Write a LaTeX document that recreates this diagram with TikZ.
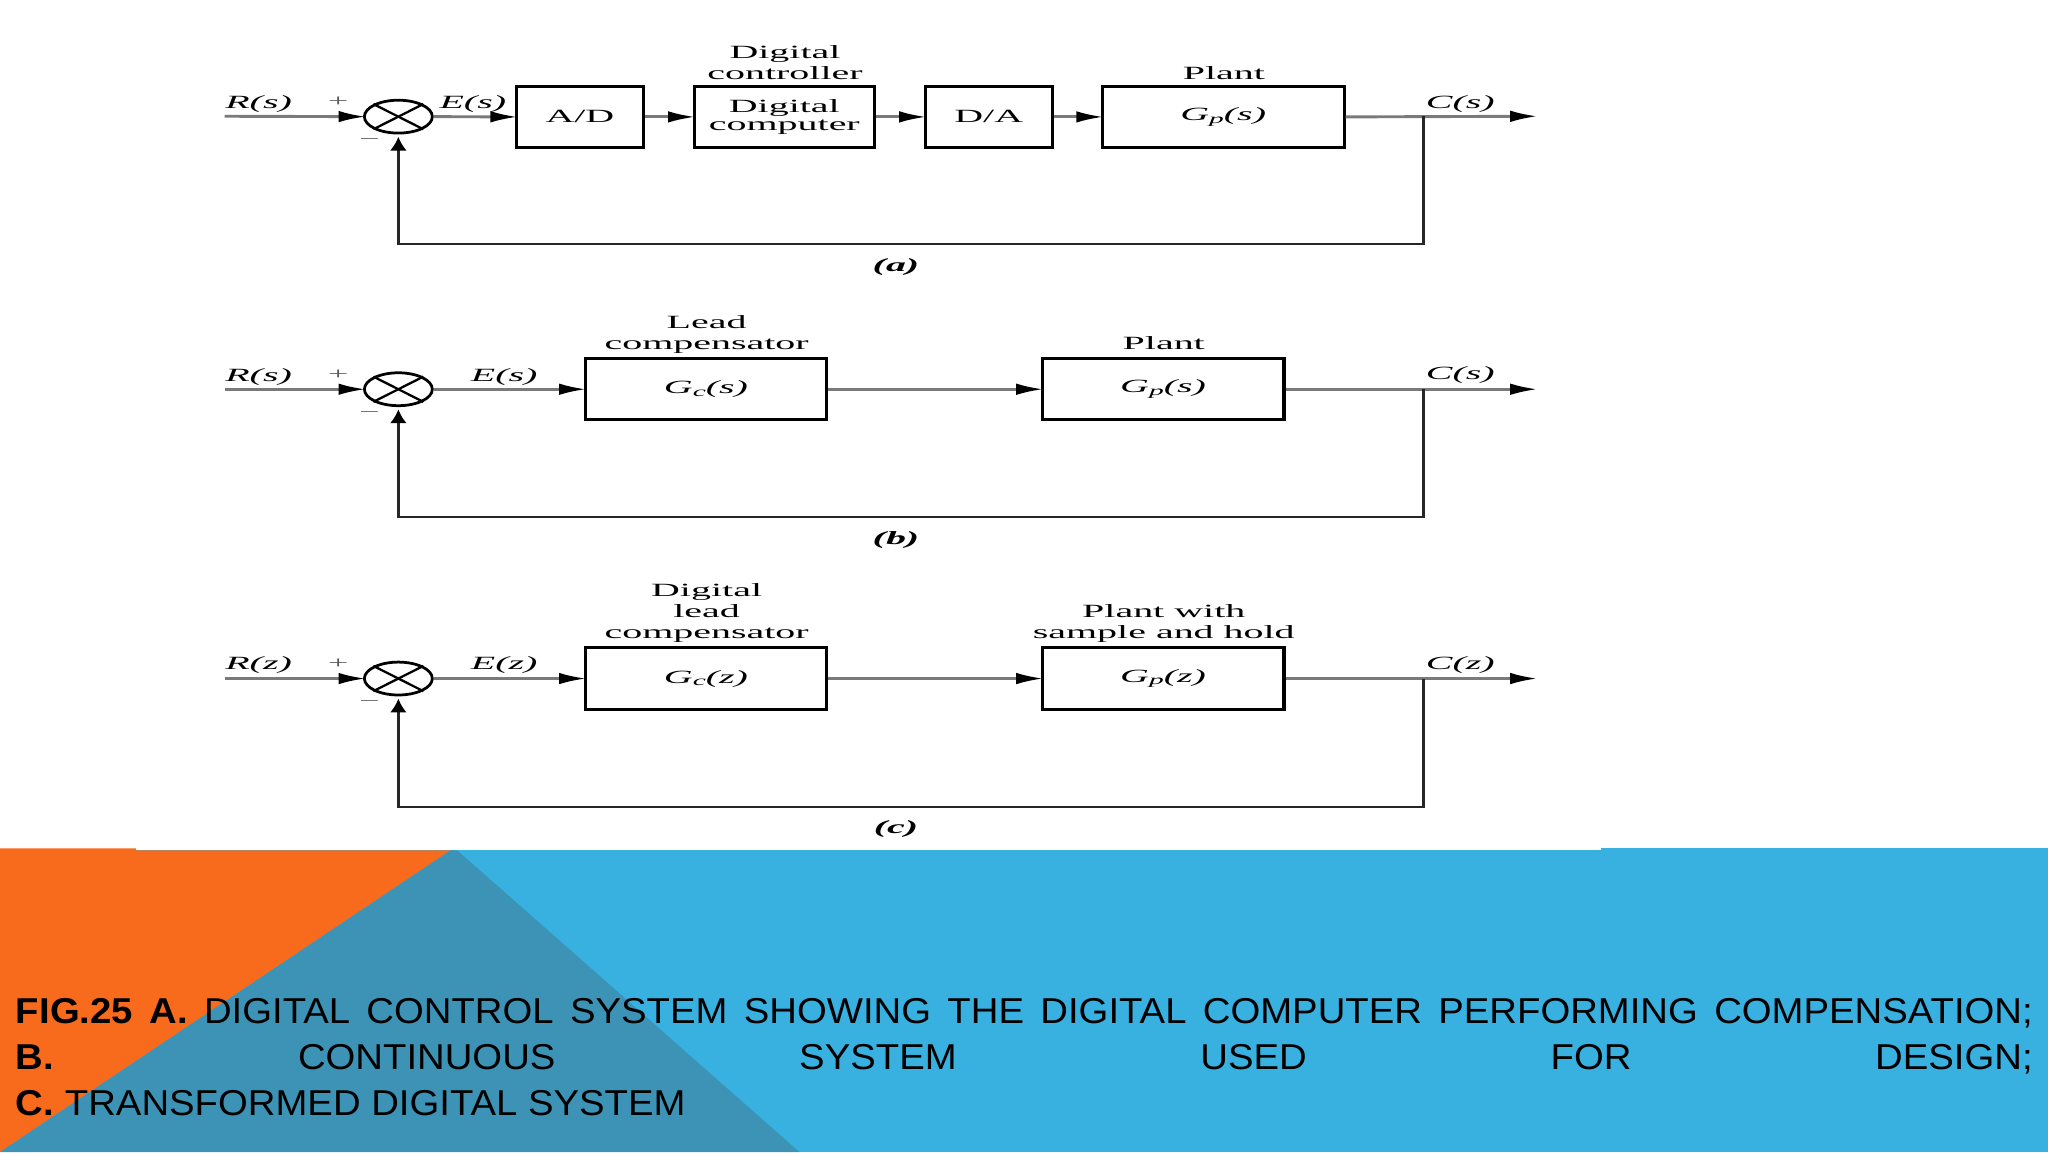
\documentclass[tikz,border=0pt]{standalone}
\usepackage{fontspec}
\usetikzlibrary{arrows.meta,shapes.geometric}
\newfontfamily\dfont[FakeStretch=2.14]{Liberation Serif}
\newfontfamily\capfont[FakeStretch=1.065]{Liberation Sans}
\definecolor{bandblue}{HTML}{38B0E0}
\definecolor{bandorange}{HTML}{F96B1C}
\definecolor{bandteal}{HTML}{3D93B5}
\newcommand{\gsb}[2]{\textit{#1}\raisebox{-0.3ex}{\fontsize{9}{9}\selectfont\textit{#2}}}
\tikzset{
  x=0.03cm,y=-0.03cm,
  lbl/.style={inner sep=0pt,anchor=south,text depth=0pt,align=center,
    font=\dfont\fontsize{12.2}{13.7}\selectfont},
  sm/.style={lbl,font=\dfont\fontsize{11}{12}\selectfont,text=black!65},
  blk/.style={draw=black,line width=2pt,fill=white,inner sep=0pt,minimum height=40pt,align=center,
    font=\dfont\fontsize{12.2}{13.7}\selectfont},
  sumj/.style={draw=black,ellipse,line width=1.8pt,inner sep=0pt,minimum width=44.4pt,minimum height=21.5pt},
  sig/.style={draw=black!52,line width=1.9pt,shorten >=-2pt,
    -{Latex[length=18pt,width=7.5pt,black]}},
  fb/.style={draw=black!85,line width=1.6pt,
    -{Latex[length=9pt,width=11pt,black]}},
  xl/.style={draw=black,line width=1.5pt},
}
\begin{document}
\begin{tikzpicture}
\useasboundingbox (0,0) rectangle (1568,882);
% band
\fill[bandblue] (0,651) rectangle (1568,882);
\fill[bandblue] (1226,649.5) rectangle (1568,651);
\fill[bandorange] (0,649.5) -- (104,649.5) -- (104,651) -- (345,651) -- (0,882) -- cycle;
\fill[bandteal] (350,651) -- (612,882) -- (0,882) -- (345,651) -- cycle;

% row a
\node[sumj] (sa) at (305,89.3) {};
\node[blk,minimum width=83pt] (ad) at (444,89.5) {A/D};
\node[blk,minimum width=118pt] (dc) at (600.5,89.5) {\raisebox{-1.6pt}{\shortstack{Digital\\[-0.6pt]computer}}};
\node[blk,minimum width=83pt] (da) at (757,89.5) {D/A};
\node[blk,minimum width=158pt] (pa) at (936.5,89.5) {\raisebox{-1.4pt}{\gsb{G}{p}\textit{(s)}}};
\coordinate (ia) at (172,89);
\coordinate (oa) at (1175,89);
\coordinate (ja) at (1090,89);
\coordinate (fa) at (305,187);
\draw[xl] (sa.north west) -- (sa.south east);
\draw[xl] (sa.south west) -- (sa.north east);
\draw[sig] (ia) -- (sa.west);
\draw[sig] (sa.east) -- (ad.west);
\draw[sig] (ad.east) -- (dc.west);
\draw[sig] (dc.east) -- (da.west);
\draw[sig] (da.east) -- (pa.west);
\draw[sig] (pa.east) -- (oa);
\draw[fb] (ja) |- (fa) -- ([yshift=-1.5pt]sa.south);
\node[lbl] (l1) at (198,83) {\textit{R(s)}};
\node[sm] (l2) at (259,82) {+};
\node[sm] (l3) at (283,111) {−};
\node[lbl] (l4) at (362,83) {\textit{E(s)}};
\node[lbl] (l5) at (601,61) {Digital\\controller};
\node[lbl] (l6) at (937,61) {Plant};
\node[lbl] (l7) at (1118,83) {\textit{C(s)}};
\node[lbl] (l8) at (686,208) {\bfseries\itshape(a)};

% row b
\node[sumj] (sb) at (305,298) {};
\node[blk,minimum width=158pt] (gb) at (540.5,298) {\raisebox{-1.4pt}{\gsb{G}{c}\textit{(s)}}};
\node[blk,minimum width=158pt] (pb) at (890.5,298) {\raisebox{-1.4pt}{\gsb{G}{p}\textit{(s)}}};
\coordinate (ib) at (172,298);
\coordinate (ob) at (1175,298);
\coordinate (jb) at (1090,298);
\coordinate (fbc) at (305,396);
\draw[xl] (sb.north west) -- (sb.south east);
\draw[xl] (sb.south west) -- (sb.north east);
\draw[sig] (ib) -- (sb.west);
\draw[sig] (sb.east) -- (gb.west);
\draw[sig] (gb.east) -- (pb.west);
\draw[sig] (pb.east) -- (ob);
\draw[fb] (jb) |- (fbc) -- ([yshift=-1.5pt]sb.south);
\node[lbl] (m1) at (198,292) {\textit{R(s)}};
\node[sm] (m2) at (259,291) {+};
\node[sm] (m3) at (283,320) {−};
\node[lbl] (m4) at (386,292) {\textit{E(s)}};
\node[lbl] (m5) at (541,268) {Lead\\compensator};
\node[lbl] (m6) at (891,268) {Plant};
\node[lbl] (m7) at (1118,291) {\textit{C(s)}};
\node[lbl] (m8) at (686,417) {\bfseries\itshape(b)};

% row c
\node[sumj] (sc) at (305,519.5) {};
\node[blk,minimum width=158pt] (gc) at (540.5,519.5) {\raisebox{-1.4pt}{\gsb{G}{c}\textit{(z)}}};
\node[blk,minimum width=158pt] (pc) at (890.5,519.5) {\raisebox{-1.4pt}{\gsb{G}{p}\textit{(z)}}};
\coordinate (ic) at (172,519.5);
\coordinate (oc) at (1175,519.5);
\coordinate (jc) at (1090,519.5);
\coordinate (fcc) at (305,618);
\draw[xl] (sc.north west) -- (sc.south east);
\draw[xl] (sc.south west) -- (sc.north east);
\draw[sig] (ic) -- (sc.west);
\draw[sig] (sc.east) -- (gc.west);
\draw[sig] (gc.east) -- (pc.west);
\draw[sig] (pc.east) -- (oc);
\draw[fb] (jc) |- (fcc) -- ([yshift=-1.5pt]sc.south);
\node[lbl] (n1) at (198,513) {\textit{R(z)}};
\node[sm] (n2) at (259,512) {+};
\node[sm] (n3) at (283,541) {−};
\node[lbl] (n4) at (386,513) {\textit{E(z)}};
\node[lbl] (n5) at (541,489) {Digital\\lead\\compensator};
\node[lbl] (n6) at (891,489) {Plant with\\sample and hold};
\node[lbl] (n7) at (1118,513) {\textit{C(z)}};
\node[lbl] (n8) at (686,638) {\bfseries\itshape(c)};

% caption
\node[inner sep=0pt,anchor=south west,text depth=0pt,align=left,
  font=\capfont\fontsize{23.5}{30.1}\selectfont] (cap) at (12,854.5)
 {\hbox to 46.32cm{\textbf{FIG.25}\hfill\textbf{A.}\hfill DIGITAL\hfill CONTROL\hfill SYSTEM\hfill SHOWING\hfill THE\hfill DIGITAL\hfill COMPUTER\hfill PERFORMING\hfill COMPENSATION;}\\
  \hbox to 46.32cm{\textbf{B.}\hfill CONTINUOUS\hfill SYSTEM\hfill USED\hfill FOR\hfill DESIGN;}\\
  \textbf{C.} TRANSFORMED DIGITAL SYSTEM};
\end{tikzpicture}
\end{document}
